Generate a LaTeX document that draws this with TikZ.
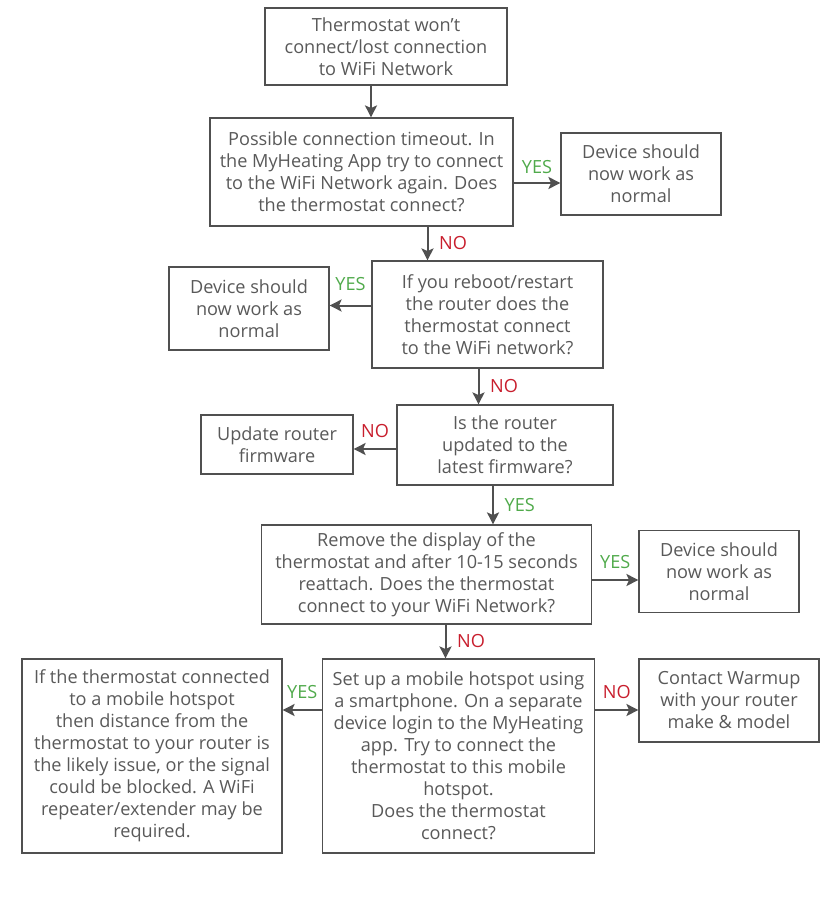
\documentclass[tikz,border=0pt]{standalone}
\usepackage{fontspec}
\setmainfont{Open Sans}
\usepackage{tikz}
\usetikzlibrary{arrows.meta,positioning,calc}

\definecolor{txtgray}{RGB}{89,89,89}
\definecolor{linegray}{RGB}{80,80,80}
\definecolor{yesgreen}{RGB}{80,170,75}
\definecolor{nored}{RGB}{200,30,45}

\tikzset{
  stepbox/.style={draw=linegray,line width=0.9pt,text=txtgray,align=center,
    inner sep=0pt,font=\fontsize{13.6}{16.5}\selectfont},
  arr/.style={draw=linegray,line width=1.5pt,-{Stealth[length=9pt,width=9pt,inset=2pt]}},
  yes/.style={text=yesgreen,font=\fontsize{13.6}{15}\selectfont,inner sep=2pt},
  no/.style={text=nored,font=\fontsize{13.6}{15}\selectfont,inner sep=2pt}
}

\begin{document}
\begin{tikzpicture}[x=0.75pt,y=-0.75pt]
\useasboundingbox (0,0) rectangle (832,902);

% boxes
\node[stepbox,minimum width=242*0.75pt,minimum height=77*0.75pt] (lost) at (386,46.5)
  {Thermostat won’t\\connect/lost connection\\to WiFi Network};
\node[stepbox,minimum width=303*0.75pt,minimum height=108*0.75pt] (timeout) at (361.5,172)
  {Possible connection timeout. In\\the MyHeating App try to connect\\to the WiFi Network again. Does\\the thermostat connect?};
\node[stepbox,minimum width=160*0.75pt,minimum height=82*0.75pt] (normalA) at (641,174)
  {Device should\\now work as\\normal};
\node[stepbox,minimum width=231*0.75pt,minimum height=107*0.75pt] (reboot) at (487.5,314.5)
  {If you reboot/restart\\the router does the\\thermostat connect\\to the WiFi network?};
\node[stepbox,minimum width=160*0.75pt,minimum height=83*0.75pt] (normalB) at (249,308.5)
  {Device should\\now work as\\normal};
\node[stepbox,minimum width=216*0.75pt,minimum height=80*0.75pt] (firmware) at (505,445)
  {Is the router\\updated to the\\latest firmware?};
\node[stepbox,minimum width=152*0.75pt,minimum height=59*0.75pt] (update) at (277,444.5)
  {Update router\\firmware};
\node[stepbox,minimum width=330*0.75pt,minimum height=99*0.75pt] (display) at (426.5,574.5)
  {Remove the display of the\\thermostat and after 10-15 seconds\\reattach. Does the thermostat\\connect to your WiFi Network?};
\node[stepbox,minimum width=160*0.75pt,minimum height=82*0.75pt] (normalC) at (719,571.5)
  {Device should\\now work as\\normal};
\node[stepbox,minimum width=272*0.75pt,minimum height=194*0.75pt] (hotspot) at (458.5,756)
  {Set up a mobile hotspot using\\a smartphone. On a separate\\device login to the MyHeating\\app. Try to connect the\\thermostat to this mobile\\hotspot.\\Does the thermostat\\connect?};
\node[stepbox,minimum width=260*0.75pt,minimum height=194*0.75pt] (distance) at (152,756)
  {If the thermostat connected\\to a mobile hotspot\\then distance from the\\thermostat to your router is\\the likely issue, or the signal\\could be blocked. A WiFi\\repeater/extender may be\\required.};
\node[stepbox,minimum width=180*0.75pt,minimum height=83*0.75pt] (contact) at (729,700.5)
  {Contact Warmup\\with your router\\make \& model};

% arrow start points
\coordinate (s1) at ($(lost.south)+(-15,0)$);
\coordinate (s2) at ($(timeout.east)+(0,11)$);
\coordinate (s3) at ($(timeout.south)+(66,0)$);
\coordinate (s4) at ($(reboot.west)+(0,-9)$);
\coordinate (s5) at ($(reboot.south)+(-9,0)$);
\coordinate (s6) at ($(firmware.west)+(0,4)$);
\coordinate (s7) at ($(firmware.south)+(-12,0)$);
\coordinate (s8) at ($(display.east)+(0,5.5)$);
\coordinate (s9) at ($(display.south)+(19,0)$);
\coordinate (s10) at ($(hotspot.west)+(0,-46)$);
\coordinate (s11) at ($(hotspot.east)+(0,-46)$);

% connectors
\draw[arr] (s1) -- (s1 |- timeout.north);
\draw[arr] (s2) -- (s2 -| normalA.west) node[yes,midway,above=4pt] {YES};
\draw[arr] (s3) -- (s3 |- reboot.north) node[no,midway,right=6pt] {NO};
\draw[arr] (s4) -- (s4 -| normalB.east) node[yes,midway,above=8pt] {YES};
\draw[arr] (s5) -- (s5 |- firmware.north) node[no,midway,right=6pt] {NO};
\draw[arr] (s6) -- (s6 -| update.east) node[no,midway,above=6pt] {NO};
\draw[arr] (s7) -- (s7 |- display.north) node[yes,midway,right=6pt] {YES};
\draw[arr] (s8) -- (s8 -| normalC.west) node[yes,midway,above=6pt] {YES};
\draw[arr] (s9) -- (s9 |- hotspot.north) node[no,midway,right=6pt] {NO};
\draw[arr] (s10) -- (s10 -| distance.east) node[yes,midway,above=6pt] {YES};
\draw[arr] (s11) -- (s11 -| contact.west) node[no,midway,above=6pt] {NO};
\end{tikzpicture}
\end{document}
